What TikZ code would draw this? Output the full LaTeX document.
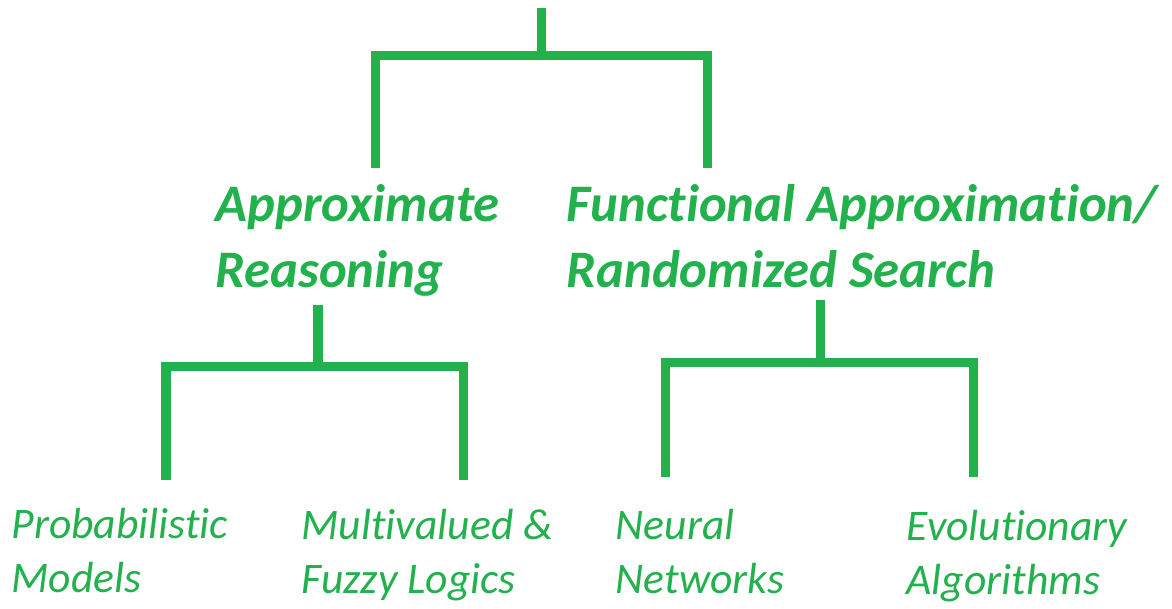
\documentclass[tikz,border=0pt]{standalone}
\usepackage{fontspec}
\setmainfont{Carlito}[Ligatures=NoCommon]
\definecolor{treegreen}{HTML}{22B14C}

\tikzset{
  branch/.style={draw=treegreen, line width=0.09cm}, % thick bracket lines
  head/.style={text=treegreen, inner sep=0pt, anchor=base west, align=left,
    font=\fontsize{15}{18.5}\selectfont\bfseries\itshape},
  leaf/.style={text=treegreen, inner sep=0pt, anchor=base west, align=left,
    font=\fontsize{12.4}{15.3}\selectfont\itshape},
}

\begin{document}
\begin{tikzpicture}[x=0.01cm, y=-0.01cm] % pixel grid, y going down
    \useasboundingbox (0,0) rectangle (1172,608);

    % second level (base = last line)
    \node[head] (AR) at (215,287) {Approximate\\Reasoning};
    \node[head] (FA) at (566,287) {Functional Approximation/\\Randomized Search};

    % leaves
    \node[leaf] (PM) at (11,592) {Probabilistic\\Models};
    \node[leaf] (MF) at (301,593) {Multivalued \&\\Fuzzy Logics};
    \node[leaf] (NN) at (615,593) {Neural\\Networks};
    \node[leaf] (EA) at (906,594) {Evolutionary\\Algorithms};

    % bracket ends
    \coordinate (root) at (541,8);
    \coordinate (rootbar) at (0,55);
    \coordinate (ARfoot) at (375,168);
    \coordinate (FAfoot) at (707,168);
    \coordinate (ARstem) at (318,305);
    \coordinate (ARbar) at (0,366);
    \coordinate (PMfoot) at (166,480);
    \coordinate (MFfoot) at (463,480);
    \coordinate (FAstem) at (820,300);
    \coordinate (FAbar) at (0,362);
    \coordinate (NNfoot) at (665,477);
    \coordinate (EAfoot) at (973,477);

    \draw[branch] (root) -- (root |- rootbar);
    \draw[branch] (ARfoot) -- (ARfoot |- rootbar) -- (FAfoot |- rootbar) -- (FAfoot);

    \draw[branch] (ARstem) -- (ARstem |- ARbar);
    \draw[branch] (PMfoot) -- (PMfoot |- ARbar) -- (MFfoot |- ARbar) -- (MFfoot);

    \draw[branch] (FAstem) -- (FAstem |- FAbar);
    \draw[branch] (NNfoot) -- (NNfoot |- FAbar) -- (EAfoot |- FAbar) -- (EAfoot);
\end{tikzpicture}
\end{document}
